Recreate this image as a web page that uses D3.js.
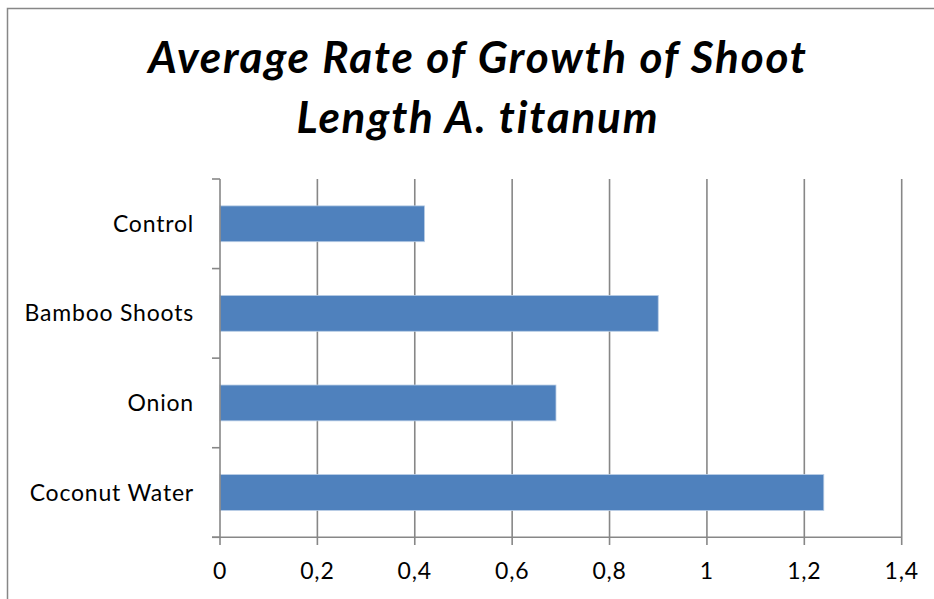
<!DOCTYPE html>
<html><head><meta charset="utf-8">
<script src="https://cdn.jsdelivr.net/npm/d3@7"></script>
<style>body{margin:0;background:#fff}svg{display:block}</style>
</head><body>
<svg id="c" width="934" height="599"></svg>
<script>
const categories = ["Control", "Bamboo Shoots", "Onion", "Coconut Water"];
const values = [0.42, 0.90, 0.69, 1.24];
const xTicks = [0, 0.2, 0.4, 0.6, 0.8, 1, 1.2, 1.4];
const tickLabels = ["0", "0,2", "0,4", "0,6", "0,8", "1", "1,2", "1,4"];
const titleLines = ["Average Rate of Growth of Shoot", "Length A. titanum"];

const svg = d3.select("#c");
const font = "Lato, 'Open Sans', sans-serif";
const grey = "#878787";

svg.append("rect").attr("x", 7.5).attr("y", 8.5).attr("width", 960).attr("height", 640)
  .attr("fill", "none").attr("stroke", grey).attr("stroke-width", 1.5);

const x = d3.scaleLinear().domain([0, 1.4]).range([220, 901.7]);
const yb = d3.scaleBand().domain(categories).range([179, 537.3]);

svg.append("g").selectAll("line").data(xTicks.slice(1)).join("line")
  .attr("x1", d => x(d)).attr("x2", d => x(d)).attr("y1", 179).attr("y2", 545)
  .attr("stroke", grey).attr("stroke-width", 1.6);

svg.append("g").selectAll("rect").data(values).join("rect")
  .attr("x", x(0)).attr("y", (d, i) => yb(categories[i]) + yb.bandwidth() * 0.3)
  .attr("width", d => x(d) - x(0)).attr("height", yb.bandwidth() * 0.4)
  .attr("fill", "#4F81BD").attr("stroke", "#B9CDE5").attr("stroke-width", 0.8);

svg.append("line").attr("x1", 220).attr("x2", 220).attr("y1", 179).attr("y2", 545)
  .attr("stroke", grey).attr("stroke-width", 1.6);
const yEdges = categories.map(c => yb(c)).concat([537.3]);
svg.append("g").selectAll("line").data(yEdges).join("line")
  .attr("x1", 212).attr("x2", 220).attr("y1", d => d).attr("y2", d => d)
  .attr("stroke", grey).attr("stroke-width", 1.6);

svg.append("line").attr("x1", 212).attr("x2", x(1.4)).attr("y1", 537.3).attr("y2", 537.3)
  .attr("stroke", grey).attr("stroke-width", 1.6);

svg.append("g").selectAll("text").data(categories).join("text")
  .attr("x", 194).attr("y", c => yb(c) + yb.bandwidth() / 2 + 8)
  .attr("text-anchor", "end").attr("letter-spacing", 0.8)
  .attr("font-family", font).attr("font-size", 23).attr("fill", "#000").text(c => c);

svg.append("g").selectAll("text").data(xTicks).join("text")
  .attr("x", d => x(d)).attr("y", 579).attr("text-anchor", "middle").attr("letter-spacing", 0.8)
  .attr("font-family", font).attr("font-size", 23).attr("fill", "#000")
  .text((d, i) => tickLabels[i]);

svg.append("g").selectAll("text").data(titleLines).join("text")
  .attr("x", 478).attr("y", (d, i) => 73 + i * 60).attr("text-anchor", "middle")
  .attr("font-family", font).attr("font-size", 44).attr("font-weight", "bold")
  .attr("font-style", "italic").attr("fill", "#000").attr("letter-spacing", 1.8)
  .style("font-variant-ligatures", "none").text(d => d);
</script>
</body></html>
